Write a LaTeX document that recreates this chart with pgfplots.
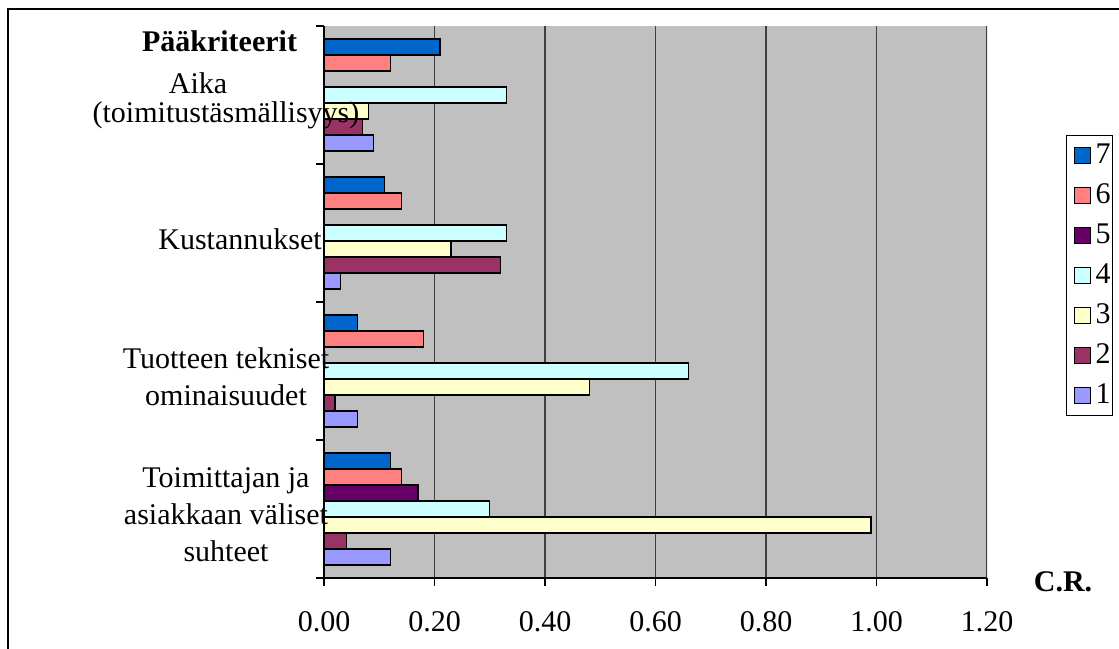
\documentclass[border=0pt]{standalone}
\usepackage{fontspec}
\setmainfont{Liberation Serif}
\usepackage{pgfplots}
\pgfplotsset{compat=1.18}

\definecolor{plotbg}{HTML}{C0C0C0}
\definecolor{gridc}{HTML}{404040}
\definecolor{sevenc}{HTML}{0066CC}
\definecolor{sixc}{HTML}{FF8080}
\definecolor{fivec}{HTML}{660066}
\definecolor{fourc}{HTML}{CCFFFF}
\definecolor{threec}{HTML}{FFFFCC}
\definecolor{twoc}{HTML}{993366}
\definecolor{onec}{HTML}{9999FF}

\newcommand{\bw}{0.1159}

\begin{document}
\begin{tikzpicture}[font=\fontsize{15}{18.5}\selectfont]
% grey plot area behind the axis
\fill[plotbg] (162pt,35pt) rectangle (493.5pt,311pt);

\begin{axis}[
  axis on top,
  at={(162pt,35pt)}, anchor=south west,
  scale only axis, width=331.5pt, height=276pt,
  xbar, bar width=\bw,
  xmin=0, xmax=1.2, ymin=-0.5, ymax=3.5,
  axis x line*=bottom, axis y line*=left,
  axis line style={-, black, line width=0.6pt},
  tick align=outside, major tick length=4pt,
  tick style={black, line width=0.6pt},
  xtick={0,0.2,0.4,0.6,0.8,1.0,1.2},
  xticklabel={\pgfmathprintnumber[fixed,fixed zerofill,precision=2]{\tick}},
  /pgf/number format/assume math mode=true,
  xticklabel style={anchor=base, yshift=-23pt},
  % category names at the group centres
  ytick={0,1,2,3},
  yticklabels={
    {Toimittajan ja\\asiakkaan väliset\\suhteet},
    {Tuotteen tekniset\\ominaisuudet},
    {\hspace*{14pt}Kustannukset},
    {Aika\hspace*{28pt}\\[-4pt](toimitustäsmällisyys)}},
  ytick style={draw=none},
  yticklabel style={anchor=center, align=center, xshift=-45pt, yshift=-3pt},
  % tick marks on the group boundaries
  extra y ticks={-0.5,0.5,1.5,2.5,3.5},
  extra y tick labels={},
  extra y tick style={ytick style={draw=black}},
  every axis plot/.append style={draw=black, line width=0.6pt},
  legend style={at={(1.1192,0.8025)}, anchor=north west, draw=black,
    line width=0.5pt, fill=white, inner sep=0pt, row sep=0pt,
    column sep=0pt, nodes={inner xsep=1pt, inner ysep=0pt},
    cells={anchor=west, minimum height=20pt}},
  legend image code/.code={
    \draw[#1, line width=0.6pt] (4pt,-4pt) rectangle (12pt,4pt);
    \path[draw=none, fill=none] (0pt,0pt) -- (13.5pt,0pt);},
]
% vertical grid lines, drawn first so that the bars cover them
\addplot[sharp plot, forget plot, draw=gridc] coordinates {(0.2,-0.5) (0.2,3.5)};
\addplot[sharp plot, forget plot, draw=gridc] coordinates {(0.4,-0.5) (0.4,3.5)};
\addplot[sharp plot, forget plot, draw=gridc] coordinates {(0.6,-0.5) (0.6,3.5)};
\addplot[sharp plot, forget plot, draw=gridc] coordinates {(0.8,-0.5) (0.8,3.5)};
\addplot[sharp plot, forget plot, draw=gridc] coordinates {(1.0,-0.5) (1.0,3.5)};
\addplot[sharp plot, forget plot, draw=gridc] coordinates {(1.2,-0.5) (1.2,3.5)};
% series 7 (top bar of each group) down to series 1 (bottom bar)
\addplot[fill=sevenc, bar shift=3*\bw] coordinates {(0.12,0) (0.06,1) (0.11,2) (0.21,3)};
\addlegendentry{7}
\addplot[fill=sixc, bar shift=2*\bw] coordinates {(0.14,0) (0.18,1) (0.14,2) (0.12,3)};
\addlegendentry{6}
\addplot[fill=fivec, bar shift=\bw] coordinates {(0.17,0)};
\addlegendentry{5}
\addplot[fill=fourc, bar shift=0] coordinates {(0.30,0) (0.66,1) (0.33,2) (0.33,3)};
\addlegendentry{4}
\addplot[fill=threec, bar shift=-\bw] coordinates {(0.99,0) (0.48,1) (0.23,2) (0.08,3)};
\addlegendentry{3}
\addplot[fill=twoc, bar shift=-2*\bw] coordinates {(0.04,0) (0.02,1) (0.32,2) (0.07,3)};
\addlegendentry{2}
\addplot[fill=onec, bar shift=-3*\bw] coordinates {(0.12,0) (0.06,1) (0.03,2) (0.09,3)};
\addlegendentry{1}
\end{axis}

\node[anchor=base, font=\fontsize{15}{18.5}\selectfont\bfseries] at (109.75pt,298pt) {Pääkriteerit};
\node[anchor=base, font=\fontsize{15}{18.5}\selectfont\bfseries] at (531.5pt,28pt) {C.R.};
% outer chart frame
\draw[line width=0.6pt] (4pt,-20pt) rectangle (590pt,319.5pt);
% page area
\pgfresetboundingbox
\useasboundingbox (0,0) rectangle (559.5pt,324pt);
\end{tikzpicture}
\end{document}
